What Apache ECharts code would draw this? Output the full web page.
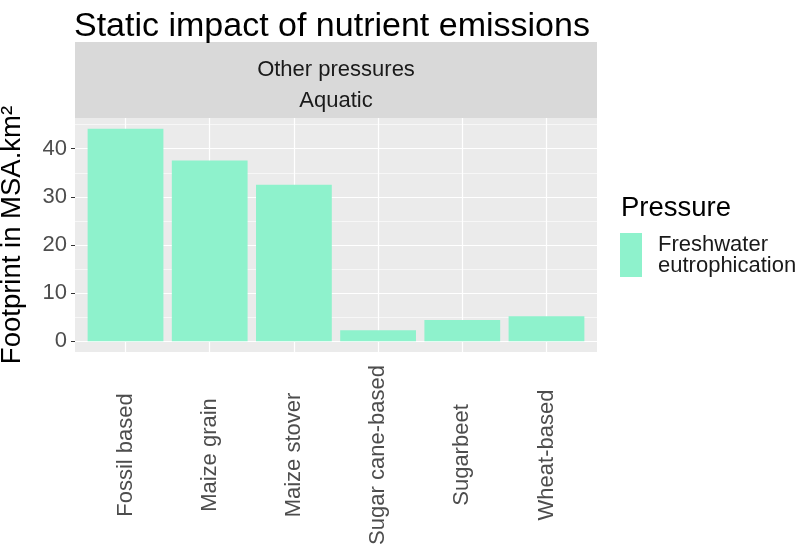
<!DOCTYPE html>
<html>
<head>
<meta charset="utf-8">
<script src="https://cdn.jsdelivr.net/npm/echarts@6/dist/echarts.min.js"></script>
<style>html,body{margin:0;padding:0;background:#fff;}#c{width:798px;height:545px;}</style>
</head>
<body>
<div id="c"></div>
<script>
const categories = ['Fossil based', 'Maize grain', 'Maize stover', 'Sugar cane-based', 'Sugarbeet', 'Wheat-based'];
const footprint = [44.17, 37.57, 32.5, 2.3, 4.45, 5.2];
const yTicks = [0, 10, 20, 30, 40];
const yMinor = [5, 15, 25, 35, 45];
const seriesName = 'Freshwater eutrophication';

const yMaxData = Math.max(...footprint);
const yPad = yMaxData * 0.05;
const FONT = 'Liberation Sans, Arial, sans-serif';
const xPos = categories.map((c, i) => i + 1);

const chart = echarts.init(document.getElementById('c'), null, {renderer: 'canvas'});
chart.setOption({
  animation: false,
  backgroundColor: '#ffffff',
  title: [
    {text: 'Static impact of nutrient emissions', left: 69, top: 5,
     textStyle: {fontFamily: FONT, fontSize: 34, fontWeight: 'normal', color: '#000'}},
    {text: 'Pressure', left: 616, top: 189,
     textStyle: {fontFamily: FONT, fontSize: 27.5, fontWeight: 'normal', color: '#000'}}
  ],
  legend: {
    left: 620, top: 233, orient: 'vertical', itemWidth: 22, itemHeight: 44,
    icon: 'rect', itemGap: 8, padding: 0,
    formatter: n => n.replace(' ', '\n'),
    textStyle: {fontFamily: FONT, fontSize: 22, color: '#1a1a1a', lineHeight: 21, padding: [0, 0, 0, 11]},
    data: [seriesName]
  },
  graphic: [
    {type: 'rect', shape: {x: 75, y: 42, width: 522, height: 38}, style: {fill: '#d9d9d9'}},
    {type: 'rect', shape: {x: 75, y: 80, width: 522, height: 38}, style: {fill: '#d9d9d9'}},
    {type: 'text', x: 336, y: 70, style: {text: 'Other pressures', fontFamily: FONT, fontSize: 22, fill: '#1a1a1a', align: 'center', verticalAlign: 'middle'}},
    {type: 'text', x: 336, y: 101, style: {text: 'Aquatic', fontFamily: FONT, fontSize: 22, fill: '#1a1a1a', align: 'center', verticalAlign: 'middle'}}
  ],
  grid: {left: 75, top: 118, width: 522, height: 234, show: true, backgroundColor: '#ebebeb',
         borderWidth: 0, containLabel: false, outerBoundsMode: 'none'},
  xAxis: {
    type: 'value', min: 0.4, max: categories.length + 0.6,
    axisLine: {show: false}, splitLine: {show: false},
    axisTick: {show: true, customValues: xPos, length: 4, lineStyle: {color: '#333', width: 1}},
    axisLabel: {customValues: xPos, formatter: v => categories[Math.round(v) - 1] || '',
      rotate: 90, align: 'center', verticalAlign: 'middle',
      fontFamily: FONT, fontSize: 22, color: '#4d4d4d', margin: 103}
  },
  yAxis: {
    type: 'value', min: -yPad, max: yMaxData + yPad,
    name: 'Footprint in MSA.km²', nameLocation: 'middle', nameGap: 49,
    nameTextStyle: {fontFamily: FONT, fontSize: 27.5, color: '#000'},
    axisLine: {show: false}, splitLine: {show: false},
    axisTick: {show: true, customValues: yTicks, length: 4, lineStyle: {color: '#333', width: 1}},
    axisLabel: {customValues: yTicks, fontFamily: FONT, fontSize: 22, color: '#4d4d4d', margin: 8}
  },
  series: [
    {
      type: 'line', data: [], silent: true, z: 1,
      markLine: {
        silent: true, symbol: 'none', z: 1, animation: false, label: {show: false},
        data: [
          ...yMinor.map(v => ({yAxis: v, lineStyle: {color: '#fff', width: 0.6, type: 'solid'}})),
          ...yTicks.map(v => ({yAxis: v, lineStyle: {color: '#fff', width: 1.2, type: 'solid'}})),
          ...xPos.map(v => ({xAxis: v, lineStyle: {color: '#fff', width: 1.2, type: 'solid'}}))
        ]
      }
    },
    {
      name: seriesName, type: 'bar', z: 3, barWidth: '90%',
      itemStyle: {color: '#8ef2cc'},
      data: categories.map((c, i) => [xPos[i], footprint[i]])
    }
  ]
});
</script>
</body>
</html>
